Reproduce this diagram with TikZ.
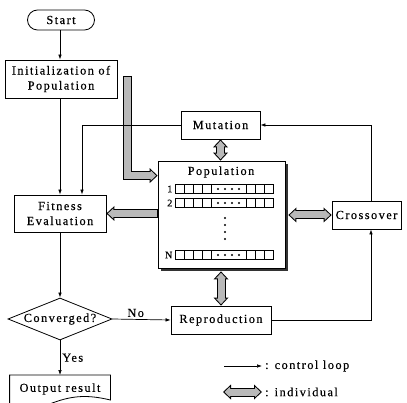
\documentclass[tikz,border=0pt]{standalone}
\usepackage{fontspec}
\setmainfont{Liberation Serif}[LetterSpace=12, FakeBold=0.4]
\usetikzlibrary{arrows.meta,positioning,calc,shapes.geometric,shadows}

% thick shaded arrow = black outline pass + gray fill pass
\newcommand{\indpath}[2]{\draw[#1out] #2; \draw[#1in] #2;}

\begin{document}
\begin{tikzpicture}[
    x=1pt, y=-1pt,
    >=Latex,
    basebox/.style={
        draw,
        line width=0.8pt,
        align=center,
        inner sep=0pt,
        fill=white,
        font=\fontsize{12.3pt}{15pt}\selectfont
    },
    stepbox/.style={basebox, minimum height=28pt},
    startbox/.style={basebox, rounded corners=10pt, minimum width=67pt, minimum height=20pt},
    decisionbox/.style={basebox, diamond, aspect=2.5, minimum width=104pt, minimum height=42pt},
    popbox/.style={basebox, minimum width=127pt, minimum height=107pt,
        drop shadow={shadow xshift=3pt, shadow yshift=-3pt, fill=black!80, opacity=1}},
    lbl/.style={font=\fontsize{12.3pt}{14pt}\selectfont, inner sep=2pt},
    rowtext/.style={font=\fontsize{10pt}{12pt}\selectfont, inner sep=0pt},
    cellline/.style={line width=0.7pt},
    ctrl/.style={-{Latex[length=5pt,width=3.6pt]}, line width=0.7pt},
    % Individual (shaded) arrows
    indtip/.tip={Triangle[width=15pt,length=8pt,line width=0pt]},
    indtipin/.tip={Triangle[width=10.4pt,length=5.5pt,line width=0pt]},
    indout/.style={draw=black, line width=9pt},
    indin/.style={draw=gray!55, line width=7pt},
    oneout/.style={indout, -indtip},
    onein/.style={indin, -indtipin, shorten <=1pt, shorten >=1.5pt},
    twoout/.style={indout, indtip-indtip},
    twoin/.style={indin, indtipin-indtipin, shorten <=1.5pt, shorten >=1.5pt}
]
\useasboundingbox (0,0) rectangle (407,403);

% Nodes
\node[startbox] (start) at (61,20) {Start};
\node[basebox, minimum width=112pt, minimum height=38pt] (init) at (61,79) {Initialization of\\Population};
\node[stepbox, minimum width=79pt] (mutation) at (220.5,125) {Mutation};
\node[basebox, minimum width=92pt, minimum height=37pt] (fitness) at (60,213.5) {Fitness\\Evaluation};
\node[popbox] (population) at (221.5,214.5) {};
\node[stepbox, minimum width=69pt] (crossover) at (366.5,215) {Crossover};
\node[stepbox, minimum width=100pt] (reproduction) at (221,320) {Reproduction};
\node[decisionbox] (converged) at (60,319) {Converged?};
\node[basebox, draw=none, fill=none, minimum width=100pt, minimum height=27pt, anchor=north] (output) at (60,375) {Output result};
\draw[line width=0.8pt] (output.north west) -- (output.north east)
    -- ($(output.north east)+(0,25)$)
    .. controls ($(output.north east)+(-25,19)$) and ($(output.north east)+(-40,21)$) .. ($(output.north west)+(40,29)$)
    .. controls ($(output.north west)+(25,37)$) and ($(output.north west)+(10,35)$) .. ($(output.north west)+(0,33)$)
    -- cycle;

% Population contents
\node[lbl, inner sep=0pt] (poptitle) at (221,172) {Population};
\foreach \row/\lab in {189/1, 203/2, 255/N} {
    \node[rowtext, anchor=east] (row\lab) at (172.5,\row) {\lab};
    \draw[cellline] (175,\row-4.5) rectangle (273,\row+4.5);
    \foreach \x in {184.25,193.5,202.75,211,246,255,264}
        \draw[cellline] (\x,\row-4.5) -- (\x,\row+4.5);
    \foreach \x in {218,225,232,239}
        \fill (\x,\row) circle (1.1pt);
}
\foreach \y in {218,225,232,239}
    \fill (225,\y) circle (1.1pt);

% Individual flows
\coordinate (initout) at (127.5,76);
\indpath{one}{(initout) |- ($(population.north west)+(0,15)$)}
\indpath{one}{(population.west |- fitness.east) -- (fitness.east)}
\indpath{two}{(mutation.south) -- (mutation.south |- population.north)}
\indpath{two}{($(population.east |- crossover.west)+(3,0)$) -- (crossover.west)}
\indpath{two}{($(population.south -| reproduction.north)+(0,3)$) -- (reproduction.north)}

% Control loop
\draw[ctrl] (start.south -| fitness) -- (init.north -| fitness);
\draw[ctrl] (init.south -| fitness) -- (fitness);
\draw[ctrl] (mutation.west) -| ([xshift=22pt]fitness.north);
\draw[ctrl] (fitness) -- (converged);
\draw[ctrl] (converged.east) -- node[lbl, above, pos=0.4] {No} (reproduction.west);
\draw[ctrl] (converged.south) -- node[lbl, right] {Yes} (output.north);
\draw[ctrl] (reproduction.east) -| ([xshift=4.5pt]crossover.south);
\draw[ctrl] ([xshift=4.5pt]crossover.north) |- (mutation.east);

% Legend
\coordinate (ctrlA) at (224,366);
\coordinate (ctrlB) at (262,366);
\draw[ctrl] (ctrlA) -- (ctrlB);
\node[lbl, right=1pt of ctrlB] (ctrltext) {: control loop};
\coordinate (indA) at (223,392);
\coordinate (indB) at (262,392);
\indpath{two}{(indA) -- (indB)}
\node[lbl, right=1pt of indB] (indtext) {: individual};

\end{tikzpicture}
\end{document}
